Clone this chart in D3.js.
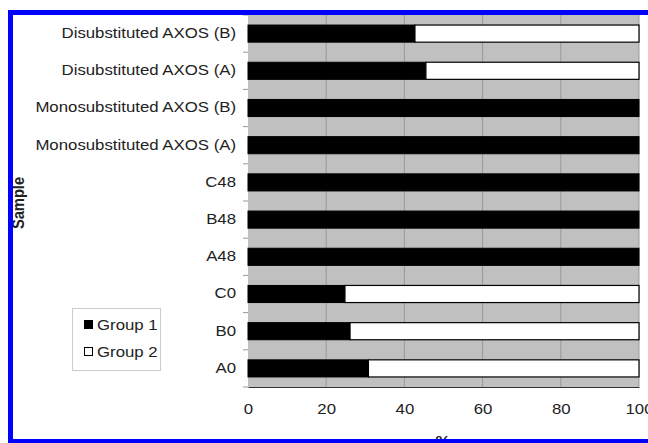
<!DOCTYPE html>
<html><head><meta charset="utf-8">
<script src="https://cdn.jsdelivr.net/npm/d3@7"></script>
<style>body{margin:0;background:#fff}svg{display:block}text{font-family:"Liberation Sans",Arial,sans-serif}</style>
</head><body>
<svg id="c" width="648" height="443"></svg>
<script>
const categories = ["Disubstituted AXOS (B)","Disubstituted AXOS (A)","Monosubstituted AXOS (B)","Monosubstituted AXOS (A)","C48","B48","A48","C0","B0","A0"];
const group1 = [42.7,45.5,100,100,100,100,100,24.8,26.1,30.8];
const group2 = group1.map(v => 100 - v);
const xTicks = [0,20,40,60,80,100];
const seriesNames = ["Group 1","Group 2"];

const svg = d3.select("#c");
const m = {l:248, r:639, t:15, b:387};
const x = d3.scaleLinear().domain([0,100]).range([m.l, m.r]);
const y = d3.scaleBand().domain(categories).range([m.t, m.b]).paddingInner(0.54).paddingOuter(0.27);
const SX = 1.2, FS = 14;

svg.append("rect").attr("x",m.l).attr("y",m.t).attr("width",m.r-m.l).attr("height",m.b-m.t).attr("fill","#c0c0c0");
svg.append("g").selectAll("line").data(xTicks.slice(1)).join("line")
  .attr("x1",d=>x(d)).attr("x2",d=>x(d)).attr("y1",m.t).attr("y2",m.b)
  .attr("stroke","#999").attr("stroke-width",1);

const rows = categories.map((c,i)=>({c, g1:group1[i], g2:group2[i]}));
svg.append("g").selectAll("rect").data(rows).join("rect")
  .attr("x",x(0)).attr("y",d=>y(d.c)).attr("width",d=>x(d.g1)-x(0)).attr("height",y.bandwidth())
  .attr("fill","#000").attr("stroke","#000").attr("stroke-width",1);
svg.append("g").selectAll("rect").data(rows.filter(d=>d.g2>0)).join("rect")
  .attr("x",d=>x(d.g1)).attr("y",d=>y(d.c)).attr("width",d=>x(100)-x(d.g1)).attr("height",y.bandwidth())
  .attr("fill","#fff").attr("stroke","#000").attr("stroke-width",1.2);

const xa = svg.append("g").attr("transform",`translate(0,${m.b})`)
  .call(d3.axisBottom(x).tickValues(xTicks).tickSize(0).tickPadding(17));
xa.select(".domain").attr("stroke","#333");
xa.selectAll("text").attr("font-size",FS).attr("fill","#222").attr("font-family","Liberation Sans, Arial, sans-serif")
  .attr("transform",`scale(${SX},1)`);

const ya = svg.append("g").attr("transform",`translate(${m.l},0)`)
  .call(d3.axisLeft(y).tickSize(0).tickPadding(10));
ya.select(".domain").remove();
ya.selectAll("text").attr("font-size",FS).attr("fill","#222").attr("font-family","Liberation Sans, Arial, sans-serif")
  .attr("transform",`scale(${SX},1)`);
svg.append("g").selectAll("line").data(d3.range(categories.length+1)).join("line")
  .attr("x1",m.l-5).attr("x2",m.l).attr("y1",d=>m.t+d*(m.b-m.t)/categories.length).attr("y2",d=>m.t+d*(m.b-m.t)/categories.length)
  .attr("stroke","#999");

svg.append("text").attr("transform","translate(24,203) rotate(-90) scale(1.05,1.2)").attr("text-anchor","middle")
  .attr("font-size",FS).attr("font-weight","bold").attr("fill","#222").text("Sample");
svg.append("text").attr("transform","translate(443,446) scale(1.2,1)").attr("text-anchor","middle")
  .attr("font-size",FS).attr("font-weight","bold").attr("fill","#222").text("%");

const lg = svg.append("g");
lg.append("rect").attr("x",72.5).attr("y",308.5).attr("width",88).attr("height",62).attr("fill","#fff").attr("stroke","#ccc");
seriesNames.forEach((n,i)=>{
  const yy = 325 + i*27;
  lg.append("rect").attr("x",84.5).attr("y",yy-4.5).attr("width",8).attr("height",8)
    .attr("fill",i===0?"#000":"#fff").attr("stroke","#000");
  lg.append("text").attr("transform",`translate(97,${yy+5}) scale(${SX},1)`).attr("font-size",FS).attr("fill","#222").text(n);
});

svg.append("rect").attr("x",10.5).attr("y",12.5).attr("width",700).attr("height",429).attr("fill","none").attr("stroke","#0000ff").attr("stroke-width",5);
</script>
</body></html>
